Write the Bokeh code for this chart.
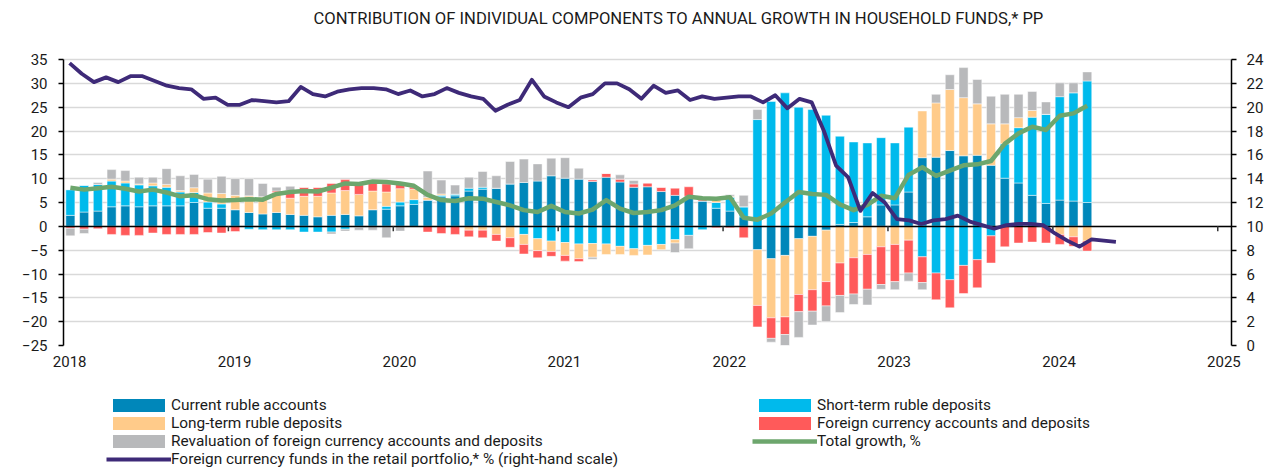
from bokeh.plotting import figure
from bokeh.layouts import column
from bokeh.models import (Range1d, LinearAxis, FixedTicker, ColumnDataSource,
                          Legend, LegendItem, Label, CustomJSTickFormatter)
from bokeh.embed import file_html
from bokeh.resources import INLINE

# ---------------- data (monthly, Jan 2018 .. Mar 2024), pp ----------------
first_year = 2018
years = [2018, 2019, 2020, 2021, 2022, 2023, 2024, 2025]
title = "CONTRIBUTION OF INDIVIDUAL COMPONENTS TO ANNUAL GROWTH IN HOUSEHOLD FUNDS,* PP"

current_ruble = [2.3, 3.0, 3.2, 4.1, 4.3, 4.1, 4.3, 4.3, 4.3, 5.0, 3.8, 3.8,
                 3.5, 2.9, 2.6, 2.9, 2.5, 2.3, 2.0, 2.3, 2.5, 2.2, 3.5, 3.6,
                 4.3, 4.6, 5.5, 6.2, 6.4, 7.4, 7.8, 8.0, 8.9, 9.2, 9.5, 10.6,
                 10.1, 9.9, 9.4, 10.3, 9.3, 8.2, 8.3, 7.3, 6.5, 6.3, 5.3, 3.8,
                 3.2, 2.0, -4.9, -6.8, -6.1, -2.6, -2.1, -0.8, 0.4, 0.8, 2.0, 4.5,
                 4.5, 7.2, 14.4, 14.5, 15.9, 14.8, 14.9, 12.8, 10.1, 9.1, 6.5, 4.8,
                 5.5, 5.3, 5.0]
short_term = [5.4, 5.6, 5.6, 5.4, 4.8, 4.6, 4.2, 3.9, 2.9, 2.1, 1.3, 0.9,
              0.0, -0.6, -0.7, -0.7, -0.7, -1.2, -1.2, -1.2, -0.6, -0.2, 0.0, 0.6,
              0.8, 1.0, 0.0, 0.3, 0.35, 0.6, 0.4, 0.0, 0.0, -1.7, -2.6, -3.1,
              -3.4, -3.7, -3.6, -3.7, -4.2, -4.7, -4.0, -3.8, -2.8, -1.9, -0.7, 1.2,
              2.9, 2.1, 22.4, 26.2, 28.0, 25.0, 24.5, 23.3, 18.5, 16.9, 15.5, 14.1,
              13.0, 13.6, -6.4, -9.8, -11.2, -8.2, -7.0, -2.0, 7.2, 11.6, 16.4, 18.7,
              21.7, 22.7, 25.5]
long_term = [0.0, 0.0, 0.0, 0.4, 0.4, 0.2, 0.6, 0.6, 0.3, 1.0, 1.9, 2.2,
             3.0, 3.5, 3.6, 4.2, 3.4, 4.0, 4.3, 4.7, 5.0, 4.5, 3.9, 3.0,
             2.8, 2.2, 0.6, 0.3, 0.0, -0.8, -0.8, -1.7, -2.4, -2.1, -2.5, -2.2,
             -2.7, -3.1, -2.9, -2.2, -1.7, -1.4, -2.0, -1.1, -0.7, 0.0, 0.0, 0.6,
             0.2, 0.0, -11.7, -12.4, -12.9, -11.7, -11.2, -10.8, -7.7, -6.6, -5.9, -4.3,
             -3.8, -2.9, 9.8, 11.4, 12.8, 12.2, 10.8, 8.7, 4.2, 2.1, 1.4, 0.0,
             -1.7, -2.2, -3.1]
fx_accounts = [-0.4, -0.6, -0.5, -1.7, -1.9, -1.9, -1.4, -1.7, -1.7, -1.7, -1.3, -1.4,
               -1.1, 0.0, 0.0, 0.3, 1.6, 1.9, 1.9, 2.0, 2.3, 2.0, 1.7, 1.7,
               0.9, 0.5, -1.2, -1.5, -1.7, -1.4, -1.6, -1.4, -2.0, -2.0, -1.5, -1.0,
               -1.2, -0.6, 0.3, 0.8, 0.6, 0.7, 0.8, 0.9, 1.5, 2.0, 0.3, -0.3,
               -0.3, -2.4, -4.5, -4.3, -3.7, -3.6, -4.5, -5.1, -6.8, -7.6, -7.3, -7.9,
               -7.8, -6.9, -5.4, -5.6, -5.9, -5.9, -5.9, -5.7, -4.3, -3.5, -3.3, -3.5,
               -2.1, -2.0, -2.1]
revaluation = [-1.6, -0.9, 0.4, 2.0, 2.2, 1.4, 1.2, 3.3, 3.1, 2.8, 2.9, 3.6,
               3.5, 3.6, 2.8, 0.8, 0.9, 0.0, 0.0, -0.4, -0.4, -0.6, -0.8, -2.4,
               -1.0, 0.0, 5.5, 2.9, 1.9, 2.3, 3.3, 2.6, 4.7, 4.9, 3.6, 3.7,
               4.3, 2.3, -0.4, 0.0, 0.9, 0.7, 0.0, 0.0, -2.0, -2.8, 0.0, 0.4,
               0.3, 2.4, 2.1, -0.8, -2.6, -5.4, -2.9, -3.3, -3.6, -2.2, -3.3, -1.0,
               -1.7, -1.7, -1.5, 1.8, 3.1, 6.3, 5.1, 5.8, 6.2, 4.9, 4.0, 2.6,
               2.9, 2.1, 1.9]
total_growth = [8.1, 7.7, 8.0, 8.3, 7.9, 7.3, 7.7, 7.1, 6.3, 6.5, 5.7, 5.4,
                5.5, 5.7, 5.6, 6.8, 7.2, 7.4, 7.3, 8.1, 9.0, 8.9, 9.4, 9.3,
                9.0, 8.5, 6.6, 5.5, 5.3, 5.9, 5.8, 5.1, 4.4, 3.4, 3.0, 4.3,
                3.0, 2.7, 3.5, 5.5, 3.7, 2.8, 3.0, 3.4, 4.4, 6.2, 5.9, 5.8,
                6.1, 1.8, 1.4, 2.7, 5.0, 7.2, 6.8, 6.6, 4.6, 3.4, 4.5, 6.4,
                5.9, 10.8, 12.4, 10.6, 11.7, 12.8, 13.0, 13.7, 17.3, 19.5, 20.9, 20.2,
                23.2, 23.7, 25.3]
# share of foreign currency funds in the retail portfolio, % (own category axis)
fx_share = [23.7, 22.8, 22.1, 22.5, 22.1, 22.6, 22.6, 22.2, 21.8, 21.6, 21.5, 20.7,
            20.8, 20.2, 20.2, 20.6, 20.5, 20.4, 20.5, 21.7, 21.1, 20.9, 21.3, 21.5,
            21.6, 21.6, 21.5, 21.1, 21.4, 20.9, 21.1, 21.6, 21.2, 20.9, 20.7, 19.7,
            20.2, 20.6, 22.3, 20.9, 20.4, 20.0, 20.8, 21.1, 22.0, 22.0, 21.5, 20.7,
            21.8, 21.2, 21.4, 20.6, 20.9, 20.7, 20.8, 20.9, 20.9, 20.4, 21.0, 19.9,
            20.7, 20.4, 18.0, 15.1, 14.1, 11.3, 12.8, 12.0, 10.6, 10.5, 10.2, 10.5,
            10.6, 10.9, 10.4, 10.1, 9.8, 10.1, 10.2, 10.2, 10.1, 9.4, 8.8, 8.3,
            8.9, 8.8, 8.7]
fx_share_slots = 96

left_ticks = [-25, -20, -15, -10, -5, 0, 5, 10, 15, 20, 25, 30, 35]
right_ticks = [0, 2, 4, 6, 8, 10, 12, 14, 16, 18, 20, 22, 24]

series = [
    ("Current ruble accounts", current_ruble, "#0087BA"),
    ("Short-term ruble deposits", short_term, "#00BAEC"),
    ("Long-term ruble deposits", long_term, "#FFCB8A"),
    ("Foreign currency accounts and deposits", fx_accounts, "#FF5A5A"),
    ("Revaluation of foreign currency accounts and deposits", revaluation, "#B8B9BB"),
]
GREEN = "#6DA66D"
PURPLE = "#3E2A78"
FONT = "Roboto"
TXT = "#1a1a1a"

# ---------------- layout constants (pixels) ----------------
W = 1275
H_MAIN, H_LEG = 390, 83
LEFT, RIGHT = 63, 44
AX_TOP, AX_BOTTOM = 59, 345        # value scale from 35 (top) to -25 (bottom)
k_left = (AX_BOTTOM - AX_TOP) / (left_ticks[-1] - left_ticks[0])
k_right = (AX_BOTTOM - AX_TOP) / (right_ticks[-1] - right_ticks[0])
y_hi = left_ticks[-1] + AX_TOP / k_left          # frame reaches to the page top (title room)
yr_hi = right_ticks[-1] + AX_TOP / k_right

n = len(current_ruble)
xc = [i + 0.5 for i in range(n)]          # month centres, months since Jan 2018

p = figure(width=W, height=H_MAIN, output_backend="svg", toolbar_location=None,
           x_range=Range1d(0, 85), y_range=Range1d(left_ticks[0], y_hi),
           min_border_left=LEFT, min_border_right=RIGHT, min_border_top=0,
           min_border_bottom=H_MAIN - AX_BOTTOM)
p.outline_line_color = None
p.background_fill_color = "white"
p.extra_y_ranges = {"right": Range1d(right_ticks[0], yr_hi)}
p.extra_x_ranges = {"slots": Range1d(-0.5, fx_share_slots - 0.5)}

# left axis
ya = p.yaxis[0]
ya.ticker = FixedTicker(ticks=left_ticks)
ya.bounds = (left_ticks[0], left_ticks[-1])
ya.axis_line_color = "black"
ya.axis_line_width = 1.5
ya.major_tick_line_color = "black"
ya.major_tick_line_width = 1.5
ya.major_tick_out = 5
ya.major_tick_in = 0
ya.minor_tick_line_color = None
ya.major_label_standoff = 11
ya.major_label_text_font = FONT
ya.major_label_text_font_size = "15px"
ya.major_label_text_color = TXT

# right axis
ra = LinearAxis(y_range_name="right", ticker=FixedTicker(ticks=right_ticks),
                bounds=(right_ticks[0], right_ticks[-1]))
ra.axis_line_color = "black"
ra.axis_line_width = 1.5
ra.major_tick_line_color = "black"
ra.major_tick_line_width = 1.5
ra.major_tick_out = 5
ra.major_tick_in = 0
ra.minor_tick_line_color = None
ra.major_label_standoff = 10
ra.major_label_text_font = FONT
ra.major_label_text_font_size = "15px"
ra.major_label_text_color = TXT
p.add_layout(ra, "right")

# bottom axis: year labels only (the year tick marks sit on the zero line)
xa = p.xaxis[0]
xa.ticker = FixedTicker(ticks=[(y - first_year) * 12 + 0.45 for y in years])
xa.formatter = CustomJSTickFormatter(code="return String(%d + Math.floor(tick / 12));" % first_year)
xa.axis_line_color = None
xa.major_tick_line_color = None
xa.minor_tick_line_color = None
xa.major_tick_out = 0
xa.major_tick_in = 0
xa.major_label_standoff = 10
xa.major_label_text_font = FONT
xa.major_label_text_font_size = "15px"
xa.major_label_text_color = TXT

p.xgrid.grid_line_color = None
p.ygrid.ticker = FixedTicker(ticks=left_ticks)
p.ygrid.grid_line_color = "#D9D9D9"
p.ygrid.grid_line_width = 1.5

# ---------------- stacked bars (positive up, negative down) ----------------
pos_base = [0.0] * n
neg_base = [0.0] * n
sources = {}
for name, vals, color in series:
    tops, bottoms = [], []
    for i, v in enumerate(vals):
        if v >= 0:
            bottoms.append(pos_base[i]); tops.append(pos_base[i] + v); pos_base[i] += v
        else:
            tops.append(neg_base[i]); bottoms.append(neg_base[i] + v); neg_base[i] += v
    src = ColumnDataSource(dict(x=xc, top=tops, bottom=bottoms))
    sources[name] = src
    p.vbar(x="x", top="top", bottom="bottom", width=0.66, source=src,
           fill_color=color, line_color="white", line_width=0.6, line_alpha=0.8)

# zero line and year tick marks on it
p.hspan(y=[0], line_color="black", line_width=1.5)
year_pos = [(y - first_year) * 12 for y in years[1:]]
p.segment(x0=year_pos, y0=[0] * len(year_pos), x1=year_pos,
          y1=[-5 / k_left] * len(year_pos), line_color="#333333", line_width=1.5)

# lines
p.line(xc, total_growth, line_color=GREEN, line_width=4.5, line_join="round")
p.line(list(range(len(fx_share))), fx_share, line_color=PURPLE, line_width=3.8,
       line_join="round", x_range_name="slots", y_range_name="right")

# title (screen units measured from the frame's bottom-left corner)
p.add_layout(Label(x=313 - LEFT, y=AX_BOTTOM - 18, x_units="screen", y_units="screen",
                   text=title, text_align="left", text_baseline="middle",
                   text_font=FONT, text_font_size="16.6px", text_color=TXT))

# ---------------- legend strip under the chart ----------------
q = figure(width=W, height=H_LEG, output_backend="svg", toolbar_location=None,
           x_range=Range1d(0, 1), y_range=Range1d(0, 1),
           x_axis_location=None, y_axis_location=None, min_border=0)
q.outline_line_color = None
q.grid.visible = False

# hidden copies of the chart's renderers, only used to draw the legend keys
swatch = {}
for name, vals, color in series:
    swatch[name] = q.vbar(x="x", top="top", bottom="bottom", width=0.66, source=sources[name],
                          fill_color=color, line_color=None, visible=False)
swatch["Total growth, %"] = q.line(xc, total_growth, line_color=GREEN, line_width=4.5,
                                   visible=False)
swatch["fx_share"] = q.line(list(range(len(fx_share))), fx_share, line_color=PURPLE,
                            line_width=4.2, visible=False)

items = [
    LegendItem(label="Current ruble accounts", renderers=[swatch["Current ruble accounts"]]),
    LegendItem(label="Long-term ruble deposits", renderers=[swatch["Long-term ruble deposits"]]),
    LegendItem(label="Revaluation of foreign currency accounts and deposits",
               renderers=[swatch["Revaluation of foreign currency accounts and deposits"]]),
    LegendItem(label="Foreign currency funds in the retail portfolio,* % (right-hand scale)",
               renderers=[swatch["fx_share"]]),
    LegendItem(label="Short-term ruble deposits", renderers=[swatch["Short-term ruble deposits"]]),
    LegendItem(label="Foreign currency accounts and deposits",
               renderers=[swatch["Foreign currency accounts and deposits"]]),
    LegendItem(label="Total growth, %", renderers=[swatch["Total growth, %"]]),
]
legend = Legend(items=items, location=(106 - LEFT, 5), orientation="vertical", nrows=4,
                glyph_width=65, glyph_height=16, label_standoff=-1, label_width=581,
                label_height=14, spacing=0, padding=0, margin=0,
                click_policy="none", inactive_fill_alpha=0,
                border_line_color=None, background_fill_alpha=0,
                label_text_font=FONT, label_text_font_size="15.4px", label_text_color=TXT)
q.add_layout(legend)

open("out.html", "w").write(file_html(column(p, q), INLINE))
